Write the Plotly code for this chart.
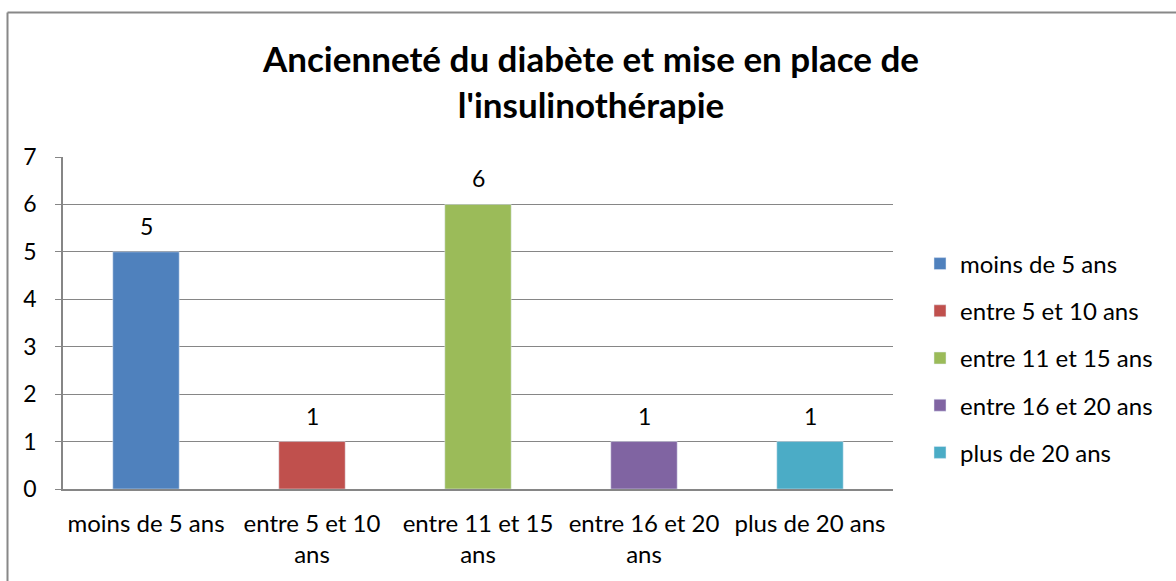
import plotly.graph_objects as go

categories = ["moins de 5 ans", "entre 5 et 10 ans", "entre 11 et 15 ans", "entre 16 et 20 ans", "plus de 20 ans"]
tick_labels = ["moins de 5 ans", "entre 5 et 10<br>ans", "entre 11 et 15<br>ans", "entre 16 et 20<br>ans", "plus de 20 ans"]
values = [5, 1, 6, 1, 1]
colors = ["#4F81BD", "#C0504D", "#9BBB59", "#8064A2", "#4BACC6"]
y_ticks = [0, 1, 2, 3, 4, 5, 6, 7]

FONT = "Lato"
W, H = 1176, 581
# plot area in page pixel coordinates
PL, PR, PT, PB = 63, 893, 157, 489
L, T, R, B = PL, PT, W - PR, H - PB
pw, ph = PR - PL, PB - PT

def px_x(p):
    return (p - PL) / pw

def px_y(p):
    return (PB - p) / ph

fig = go.Figure()
for i, (cat, val, col) in enumerate(zip(categories, values, colors)):
    fig.add_trace(go.Bar(
        x=[tick_labels[i]], y=[val], name=cat, marker_color=col,
        width=0.4, legendgroup=cat, cliponaxis=False,
    ))
    fig.add_annotation(
        x=tick_labels[i], y=val, text=str(val), showarrow=False,
        yshift=26, yanchor="middle", font=dict(size=23, family=FONT, color="black"),
    )

fig.update_layout(
    width=W, height=H,
    margin=dict(l=L, r=R, t=T, b=B, autoexpand=False),
    paper_bgcolor="white", plot_bgcolor="white",
    barmode="overlay",
    font=dict(family=FONT, size=24, color="black"),
    title=dict(
        text="Ancienneté du diabète et mise en place de<br>l'insulinothérapie",
        font=dict(family=FONT, size=35, color="black", weight="bold"),
        x=591 / W, xanchor="center", y=1 - 72 / H, yanchor="top", yref="container",
    ),
    xaxis=dict(
        categoryorder="array", categoryarray=tick_labels,
        showline=True, linecolor="#868686", linewidth=1.5,
        showgrid=False, ticks="", tickfont=dict(size=24, family=FONT),
        ticklabelstandoff=12,
    ),
    yaxis=dict(
        range=[0, 7], tickvals=y_ticks, showgrid=True, gridcolor="#868686", gridwidth=1.2,
        showline=True, linecolor="#868686", linewidth=1.5,
        ticks="outside", ticklen=6, tickcolor="#868686",
        tickfont=dict(size=23, family=FONT), ticklabelstandoff=14, zeroline=False,
    ),
    legend=dict(
        x=px_x(920), xanchor="left", y=px_y(358), yanchor="middle",
        font=dict(size=24, family=FONT), tracegroupgap=13,
        itemwidth=30,
    ),
    shapes=[
        dict(type="line", xref="paper", yref="paper",
             x0=px_x(7.5), x1=px_x(1200), y0=px_y(12.5), y1=px_y(12.5),
             line=dict(color="#888888", width=2)),
        dict(type="line", xref="paper", yref="paper",
             x0=px_x(7.5), x1=px_x(7.5), y0=px_y(12.5), y1=px_y(620),
             line=dict(color="#888888", width=2)),
    ],
)

fig.write_html("out.html", config={"displayModeBar": False},
               post_script="document.body.style.margin='0';")
